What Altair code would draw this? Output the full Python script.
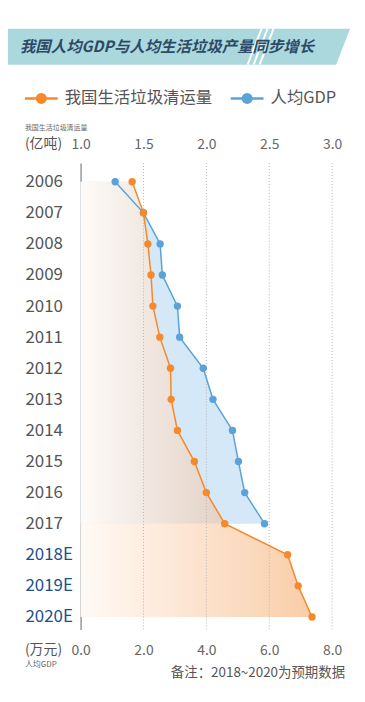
import altair as alt
import pandas as pd

# ---------------- data ----------------
years = [2006, 2007, 2008, 2009, 2010, 2011, 2012, 2013, 2014, 2015, 2016, 2017, 2018, 2019, 2020]
garbage = [1.41, 1.50, 1.535, 1.56, 1.575, 1.63, 1.715, 1.72, 1.77, 1.905, 2.00, 2.146, 2.646, 2.73, 2.84]  # 亿吨
gdp_years = [2006, 2007, 2008, 2009, 2010, 2011, 2012, 2013, 2014, 2015, 2016, 2017]
gdp = [1.10, 2.00, 2.53, 2.60, 3.08, 3.15, 3.90, 4.21, 4.83, 5.02, 5.22, 5.85]  # 万元
gdp_ticks = [0.0, 2.0, 4.0, 6.0, 8.0]
garbage_ticks = [1.0, 1.5, 2.0, 2.5, 3.0]
grid_ticks = [2.0, 4.0, 6.0, 8.0]

ORANGE = "#f5892b"
BLUE = "#5aa2d8"
FONT = "Noto Sans CJK SC"

g_df = pd.DataFrame({"year": years, "garbage": garbage})
g_up = g_df[g_df.year <= 2017]
g_low = g_df[g_df.year >= 2017]
b_df = pd.DataFrame({"year": gdp_years, "gdp": gdp})
grid_df = pd.DataFrame({"t": grid_ticks})
one = pd.DataFrame({"d": [0]})

y_enc = alt.Y(
    "year:Q",
    scale=alt.Scale(domain=[2005.4, 2020.4], reverse=True, nice=False, zero=False),
    axis=alt.Axis(
        values=years, title=None, grid=False, ticks=False, tickSize=0,
        labelExpr="datum.value >= 2018 ? datum.value + 'E' : '' + datum.value",
        labelColor={"condition": {"test": "datum.value >= 2018", "value": "#1d4f8b"}, "value": "#555555"},
        labelFontSize=17, labelFont=FONT, labelAlign="left", labelPadding=56,
        domainColor="#9a9a9a", domainWidth=1.5,
    ),
)

gdp_scale = alt.Scale(domain=[0, 8], nice=False, zero=False)
gar_scale = alt.Scale(domain=[1, 3], nice=False, zero=False)

# ---------------- decorations ----------------
banner = alt.Chart(one).mark_rect(color="#abd8dc").encode(
    x=alt.value(-73), x2=alt.value(275), y=alt.value(-135), y2=alt.value(-99)
)
cut = alt.Chart(one).mark_rule(color="white", strokeWidth=20, strokeCap="butt").encode(
    x=alt.value(287.6), x2=alt.value(261.9), y=alt.value(-150), y2=alt.value(-84)
)
stripes = [
    alt.Chart(one).mark_rule(color="white", strokeWidth=2).encode(
        x=alt.value(x0), x2=alt.value(x0 + 14), y=alt.value(-99), y2=alt.value(-135)
    )
    for x0 in (168, 174, 180)
]
title = alt.Chart(one).mark_text(
    text="我国人均GDP与人均生活垃圾产量同步增长", align="left", baseline="middle",
    font=FONT, fontSize=15.5, fontWeight="bold", fontStyle="italic", color="#2c4a66",
).encode(x=alt.value(-61), y=alt.value(-117))

def legend_item(x0, color, label):
    line = alt.Chart(one).mark_rule(color=color, strokeWidth=2.5).encode(
        x=alt.value(x0), x2=alt.value(x0 + 33), y=alt.value(-65)
    )
    dot = alt.Chart(one).mark_point(filled=True, color=color, opacity=1, size=120).encode(
        x=alt.value(x0 + 16.5), y=alt.value(-65)
    )
    txt = alt.Chart(one).mark_text(
        text=label, align="left", baseline="middle", font=FONT, fontSize=16.5, color="#555555"
    ).encode(x=alt.value(x0 + 40), y=alt.value(-65))
    return [line, dot, txt]

legend = legend_item(-56, ORANGE, "我国生活垃圾清运量") + legend_item(151, BLUE, "人均GDP")

def txt(s, x, y, size, color="#555555", align="left"):
    return alt.Chart(one).mark_text(
        text=s, align=align, baseline="middle", font=FONT, fontSize=size, color=color
    ).encode(x=alt.value(x), y=alt.value(y))

texts = [
    txt("我国生活垃圾清运量", -56, -35, 7, "#666666"),
    txt("(亿吨)", -56, -19, 14),
    txt("(万元)", -56, 490, 14),
    txt("人均GDP", -56, 505, 8, "#666666"),
    txt("备注：2018~2020为预期数据", 266, 513, 13.5, align="right"),
]

# ---------------- data marks ----------------
blue_area = alt.Chart(b_df).mark_area(orient="horizontal", color="#d5e8f7").encode(
    x=alt.X("gdp:Q", scale=gdp_scale, axis=None), x2=alt.datum(0), y=y_enc
)
orange_up = alt.Chart(g_up).mark_area(
    orient="horizontal",
    color=alt.Gradient(gradient="linear", x1=0, x2=1, y1=0, y2=0,
                       stops=[alt.GradientStop(color="#fdfbf9", offset=0),
                              alt.GradientStop(color="#e3d1c4", offset=1)]),
).encode(x=alt.X("garbage:Q", scale=gar_scale, axis=None), x2=alt.datum(1.0), y=y_enc)
orange_low = alt.Chart(g_low).mark_area(
    orient="horizontal",
    color=alt.Gradient(gradient="linear", x1=0, x2=1, y1=0, y2=0,
                       stops=[alt.GradientStop(color="#fffaf6", offset=0),
                              alt.GradientStop(color="#f9cda8", offset=1)]),
).encode(x=alt.X("garbage:Q", scale=gar_scale, axis=None), x2=alt.datum(1.0), y=y_enc)

grid = alt.Chart(grid_df).mark_rule(color="#b5b5b5", strokeWidth=1, strokeDash=[1, 2]).encode(
    x=alt.X("t:Q", scale=gdp_scale, axis=None)
)

blue_line = alt.Chart(b_df).mark_line(color=BLUE, strokeWidth=1.5).encode(
    x=alt.X("gdp:Q", scale=gdp_scale,
            axis=alt.Axis(orient="bottom", values=gdp_ticks, format=".1f", title=None,
                          domain=False, ticks=False, grid=False, labelFlush=False,
                          labelFontSize=14, labelFont=FONT, labelColor="#666666", labelPadding=14)),
    y=y_enc, order="year:Q",
)
blue_pts = alt.Chart(b_df).mark_circle(color=BLUE, opacity=1, size=55).encode(
    x=alt.X("gdp:Q", scale=gdp_scale, axis=None), y=y_enc
)
orange_line = alt.Chart(g_df).mark_line(color=ORANGE, strokeWidth=1.5).encode(
    x=alt.X("garbage:Q", scale=gar_scale,
            axis=alt.Axis(orient="top", values=garbage_ticks, format=".1f", title=None,
                          domain=False, ticks=False, grid=False, labelFlush=False,
                          labelFontSize=14, labelFont=FONT, labelColor="#666666", labelPadding=12)),
    y=y_enc, order="year:Q",
)
orange_pts = alt.Chart(g_df).mark_circle(color=ORANGE, opacity=1, size=55).encode(
    x=alt.X("garbage:Q", scale=gar_scale, axis=None), y=y_enc
)

chart = alt.layer(
    banner, *stripes, cut, title, *legend, *texts,
    blue_area, orange_up, orange_low, grid,
    blue_line, blue_pts, orange_line, orange_pts,
).resolve_scale(x="independent").properties(
    width=253, height=469,
    autosize=alt.AutoSizeParams(type="none"),
    padding={"left": 73, "top": 154, "right": 25, "bottom": 60},
    background="white",
).configure_view(stroke=None)

chart.save("out.html", embed_options={"renderer": "svg", "actions": False})
